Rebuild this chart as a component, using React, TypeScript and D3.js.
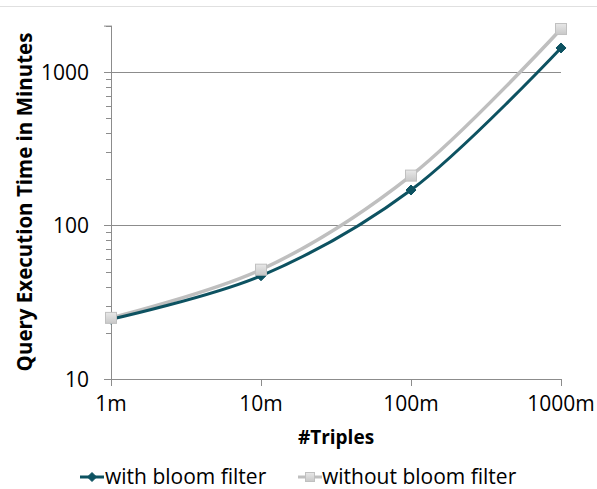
import React from "react";
import * as d3 from "d3";

const categories = ["1m", "10m", "100m", "1000m"];
const withBloom = [24.5, 47, 170, 1430];
const withoutBloom = [25, 51.5, 211, 1900];
const yTicks = [10, 100, 1000];
const seriesNames = ["with bloom filter", "without bloom filter"];

const W = 597, H = 489;
const FONT = "'Open Sans', 'Liberation Sans', sans-serif";

export default function App() {
  const x = d3.scalePoint<string>().domain(categories).range([111, 561]);
  const y = d3.scaleLog().domain([10, 2000]).range([379, 25.6]);
  const line = d3
    .line<number>()
    .x((_, i) => x(categories[i]) as number)
    .y((d) => y(d))
    .curve(d3.curveCatmullRom.alpha(0.5));

  const minor: number[] = [];
  for (let dec = 10; dec < 2000; dec *= 10) {
    for (let k = 2; k <= 9; k++) {
      const v = dec * k;
      if (v <= 2000) minor.push(v);
    }
  }

  const teal = "#0D5261";
  const gray = "#BFBFBF";

  const diamond = (cx: number, cy: number, s: number, key?: string) => (
    <path
      key={key}
      d={`M${cx},${cy - s}L${cx + s},${cy}L${cx},${cy + s}L${cx - s},${cy}Z`}
      fill={teal}
      stroke={teal}
      strokeWidth={1}
    />
  );
  const square = (cx: number, cy: number, s: number, key?: string) => (
    <rect
      key={key}
      x={cx - s}
      y={cy - s}
      width={2 * s}
      height={2 * s}
      fill="url(#sqgrad)"
      stroke="#C0C0C0"
      strokeWidth={1}
    />
  );

  return (
    <svg width={W} height={H} style={{ position: "absolute", left: 0, top: 0 }}>
      <defs>
        <linearGradient id="sqgrad" x1="0" y1="0" x2="0" y2="1">
          <stop offset="0" stopColor="#E8E8E8" />
          <stop offset="1" stopColor="#C8C8C8" />
        </linearGradient>
      </defs>
      <rect x={0} y={0} width={W} height={H} fill="#fff" />
      <line x1={0} x2={W} y1={6.5} y2={6.5} stroke="#E0E0E0" strokeWidth={1} />

      {/* gridlines */}
      {yTicks.slice(1).map((t) => (
        <line key={t} x1={111} x2={561} y1={Math.round(y(t)) + 0.5} y2={Math.round(y(t)) + 0.5} stroke="#8C8C8C" strokeWidth={1} />
      ))}

      {/* y axis */}
      <line x1={111.5} x2={111.5} y1={25.6} y2={379} stroke="#8C8C8C" strokeWidth={1} />
      {yTicks.map((t) => (
        <line key={"mt" + t} x1={104} x2={111} y1={Math.round(y(t)) + 0.5} y2={Math.round(y(t)) + 0.5} stroke="#8C8C8C" />
      ))}
      <line x1={104} x2={111} y1={25.6 + 0.5} y2={25.6 + 0.5} stroke="#8C8C8C" />
      {minor.map((t) => (
        <line key={"mi" + t} x1={106} x2={111} y1={Math.round(y(t)) + 0.5} y2={Math.round(y(t)) + 0.5} stroke="#8C8C8C" />
      ))}
      {yTicks.map((t) => (
        <text key={"yl" + t} x={89} y={y(t)} textAnchor="end" dominantBaseline="central" fontFamily={FONT} fontSize={21} fill="#000">
          {t}
        </text>
      ))}

      {/* x axis */}
      <line x1={111} x2={561} y1={379.5} y2={379.5} stroke="#8C8C8C" strokeWidth={1} />
      {categories.map((c) => (
        <line key={"xt" + c} x1={Math.round(x(c) as number) + 0.5} x2={Math.round(x(c) as number) + 0.5} y1={379} y2={386} stroke="#8C8C8C" />
      ))}
      {categories.map((c) => (
        <text key={"xl" + c} x={x(c) as number} y={403} textAnchor="middle" dominantBaseline="central" fontFamily={FONT} fontSize={21} fill="#000">
          {c}
        </text>
      ))}

      {/* series */}
      <path d={line(withoutBloom) || ""} fill="none" stroke={gray} strokeWidth={3.5} />
      <path d={line(withBloom) || ""} fill="none" stroke={teal} strokeWidth={3} />
      {withBloom.map((v, i) => diamond(x(categories[i]) as number, y(v), 5, "d" + i))}
      {withoutBloom.map((v, i) => square(x(categories[i]) as number, y(v), 5.5, "s" + i))}

      {/* axis titles */}
      <text x={336} y={437} textAnchor="middle" dominantBaseline="central" fontFamily={FONT} fontWeight="bold" fontSize={19} fill="#000">
        #Triples
      </text>
      <text
        transform={`translate(24,202) rotate(-90)`}
        textAnchor="middle"
        dominantBaseline="central"
        fontFamily={FONT}
        fontWeight="bold"
        fontSize={20.5}
        fill="#000"
      >
        Query Execution Time in Minutes
      </text>

      {/* legend */}
      <line x1={80} x2={104} y1={477} y2={477} stroke={teal} strokeWidth={3} />
      {diamond(92, 477, 4.5)}
      <text x={105} y={476} dominantBaseline="central" fontFamily={FONT} fontSize={21} fill="#000">
        {seriesNames[0]}
      </text>
      <line x1={298} x2={322} y1={477} y2={477} stroke={gray} strokeWidth={3} />
      {square(310, 477, 4.5)}
      <text x={322} y={476} dominantBaseline="central" fontFamily={FONT} fontSize={21} fill="#000">
        {seriesNames[1]}
      </text>
    </svg>
  );
}
